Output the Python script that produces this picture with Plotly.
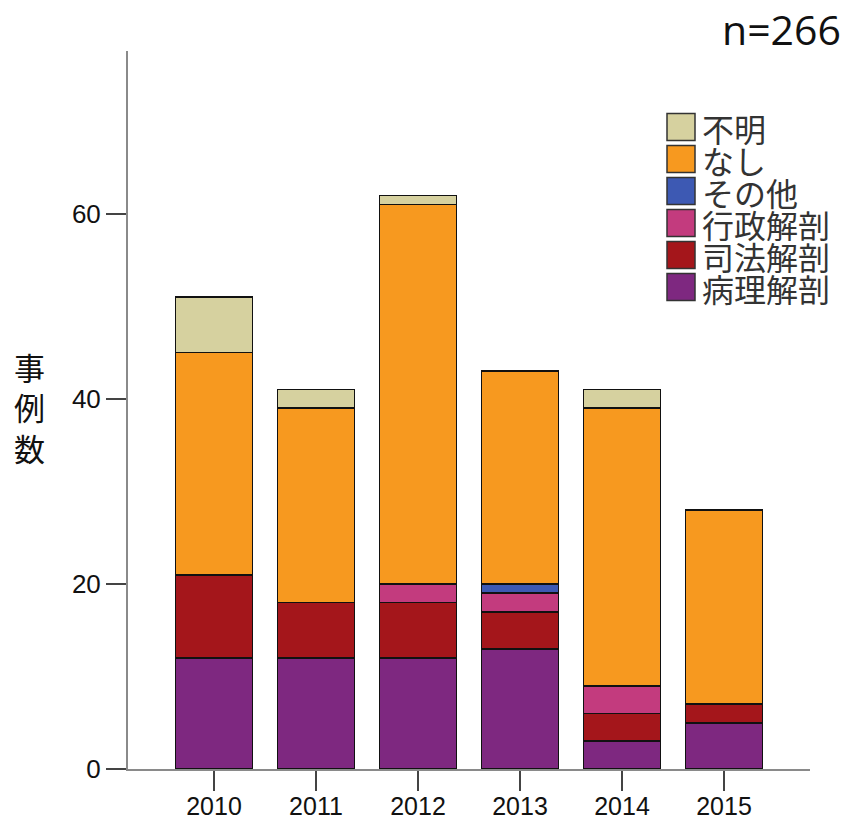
import plotly.graph_objects as go

years = ["2010", "2011", "2012", "2013", "2014", "2015"]
pathology = [12, 12, 12, 13, 3, 5]      # 病理解剖
judicial = [9, 6, 6, 4, 3, 2]           # 司法解剖
administrative = [0, 0, 2, 2, 3, 0]     # 行政解剖
other = [0, 0, 0, 1, 0, 0]              # その他
none_ = [24, 21, 41, 23, 30, 21]        # なし
unknown = [6, 2, 1, 0, 2, 0]            # 不明

series_names = ["病理解剖", "司法解剖", "行政解剖", "その他", "なし", "不明"]
series_values = [pathology, judicial, administrative, other, none_, unknown]
series_colors = ["#7E2880", "#A4161B", "#C33B7E", "#3D59B3", "#F7991F", "#D6D19F"]

y_ticks = [0, 20, 40, 60]
title_text = "n=266"
y_title = "事例数"

W, H = 846, 823
L, R, T, B = 128, 36, 51, 54
pw, ph = W - L - R, H - T - B


def px_x(x):
    return (x - L) / pw


def px_y(y):
    return (H - B - y) / ph


fig = go.Figure()
for name, vals, col in zip(series_names, series_values, series_colors):
    fig.add_trace(go.Bar(
        x=years, y=vals, name=name,
        marker=dict(color=col, line=dict(color="#111111", width=1.6)),
        showlegend=False, hoverinfo="skip",
    ))

# custom legend (large swatches, tight spacing as in the reference)
shapes = []
annotations = []
for i, (name, col) in enumerate(zip(reversed(series_names), reversed(series_colors))):
    cy = 127 + 32 * i
    shapes.append(dict(type="rect", xref="paper", yref="paper",
                       x0=px_x(667), x1=px_x(695),
                       y0=px_y(cy + 13.5), y1=px_y(cy - 13.5),
                       fillcolor=col, line=dict(color="#333333", width=1.5)))
    annotations.append(dict(xref="paper", yref="paper", x=px_x(700), y=px_y(cy + 1),
                            xanchor="left", yanchor="middle", showarrow=False,
                            text=name,
                            font=dict(family="Noto Sans CJK JP", size=32, color="#333333")))

annotations.append(dict(xref="paper", yref="paper", x=px_x(843), y=px_y(29),
                        xanchor="right", yanchor="middle", showarrow=False,
                        text=title_text,
                        font=dict(family="Open Sans", size=41, color="#111111")))
annotations.append(dict(xref="paper", yref="paper", x=px_x(30), y=px_y(407),
                        xanchor="center", yanchor="middle", showarrow=False,
                        text="<br>".join(list(y_title)),
                        font=dict(family="Noto Sans CJK JP", size=31, color="#111111")))

fig.update_layout(
    width=W, height=H, autosize=False,
    margin=dict(l=L, r=R, t=T, b=B, pad=0),
    paper_bgcolor="white", plot_bgcolor="white",
    barmode="stack", bargap=0.245,
    showlegend=False,
    shapes=shapes, annotations=annotations,
    xaxis=dict(type="category", range=[-0.843, 5.843], automargin=False,
               showline=True, linecolor="#8a8a8a", linewidth=2,
               ticks="outside", ticklen=20, tickwidth=2, tickcolor="#444444",
               ticklabelstandoff=-6,
               showgrid=False, zeroline=False,
               tickfont=dict(family="Liberation Sans, sans-serif",
                             size=25, color="#111111")),
    yaxis=dict(range=[0, 77.6], tickvals=y_ticks, automargin=False,
               showline=True, linecolor="#8a8a8a", linewidth=2,
               ticks="outside", ticklen=20, tickwidth=2, tickcolor="#444444",
               showgrid=False, zeroline=False,
               tickfont=dict(family="Liberation Sans, sans-serif", size=26, color="#111111")),
)

fig.write_html("out.html",
               config={"responsive": False, "displayModeBar": False},
               post_script="document.body.style.margin='0';document.body.style.overflow='hidden';")
